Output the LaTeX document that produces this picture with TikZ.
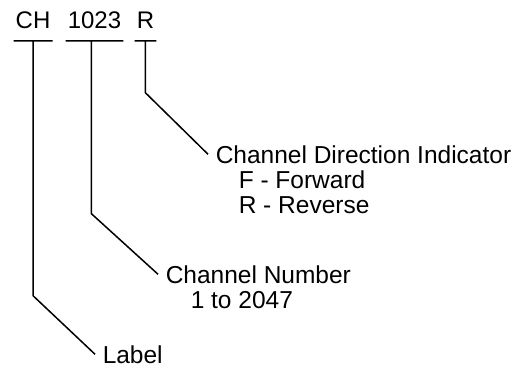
\documentclass[tikz,border=0pt]{standalone}
\usepackage{fontspec}
\setmainfont{Liberation Sans}
\usetikzlibrary{positioning}

\begin{document}
\begin{tikzpicture}[x=1pt, y=-1pt, line width=1.5pt,
    codepart/.style={font=\fontsize{24}{28}\selectfont, inner xsep=1.5pt, inner ysep=12pt, text depth=0pt, anchor=base west},
    desc/.style={font=\fontsize{24.5}{29}\selectfont, inner xsep=7pt, inner ysep=0pt, anchor=base west}]
      \useasboundingbox (0,0) rectangle (531,368);
      % channel name parts
      \node[codepart] (ch)  at (13.5,28)  {CH};
      \node[codepart] (num) at (65.5,28)  {1023};
      \node[codepart] (dir) at (134.5,28) {R};
      % descriptions
      \node[desc] (dirtxt) at (208,163) {Channel Direction Indicator};
      \node[desc, below right=25pt and 23pt of dirtxt.base west, anchor=base west] (fwd) {F - Forward};
      \node[desc, below=25pt of fwd.base west, anchor=base west] (rev) {R - Reverse};
      \node[desc] (numtxt) at (158,283) {Channel Number};
      \node[desc, below right=25pt and 25pt of numtxt.base west, anchor=base west] (range) {1 to 2047};
      \node[desc] (lbl) at (95,363) {Label};
      % underlines and leaders
      \draw (ch.south west) -- (ch.south east)
            (ch.south) -- ++(0,255) -- (lbl.west);
      \draw (num.south west) -- (num.south east)
            ([xshift=-3pt]num.south) -- ++(0,173) -- (numtxt.west);
      \draw (dir.south west) -- (dir.south east)
            (dir.south) -- ++(0,52) -- (dirtxt.west);
\end{tikzpicture}
\end{document}
